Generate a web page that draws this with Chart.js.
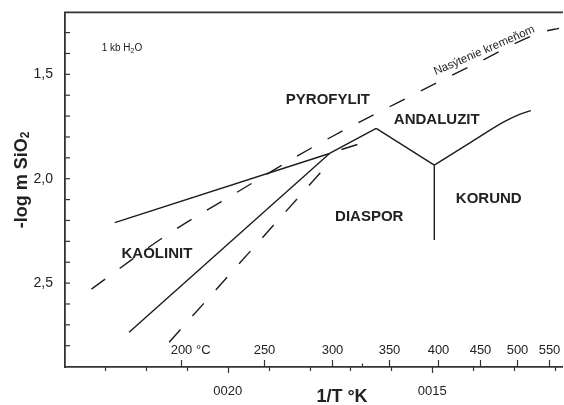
<!DOCTYPE html>
<html>
<head>
<meta charset="utf-8">
<script src="https://cdn.jsdelivr.net/npm/chart.js@4.4.0/dist/chart.umd.min.js"></script>
<style>
html,body{margin:0;padding:0;background:#fff;}
canvas{display:block;}
</style>
</head>
<body>
<canvas id="c" width="564" height="405"></canvas>
<script>
// x = 1000/T  (T in K),  y = -log m SiO2
// Phase boundaries (solid)
const kaolPyroX      = [2.276, 1.751];
const kaolPyroY      = [2.210, 1.879];
const kaolPyroMetaX  = [1.722, 1.683];          // metastable extension (one dash)
const kaolPyroMetaY  = [1.860, 1.836];
const kaolDiasX      = [2.241, 1.751];
const kaolDiasY      = [2.735, 1.879];
const pyroDiasX      = [1.751, 1.637];
const pyroDiasY      = [1.879, 1.759];
const andDiasX       = [1.637, 1.495];
const andDiasY       = [1.759, 1.935];
const diasKorX       = [1.495, 1.495];
const diasKorY       = [1.935, 2.293];
const andKorX        = [1.495, 1.410, 1.324, 1.288, 1.259];
const andKorY        = [1.935, 1.831, 1.727, 1.693, 1.674];
// Dashed lines
const quartzSatX     = [2.333, 2.159, 1.968, 1.783, 1.588, 1.393, 1.234, 1.190];
const quartzSatY     = [2.529, 2.283, 2.054, 1.839, 1.639, 1.448, 1.299, 1.280];
const kaolDiasQzX    = [2.143, 1.761];
const kaolDiasQzY    = [2.783, 1.944];

// Axes
const yTickValues    = [1.3,1.4,1.5,1.6,1.7,1.8,1.9,2.0,2.1,2.2,2.3,2.4,2.5,2.6,2.7,2.8];
const yLabelValues   = [1.5, 2.0, 2.5];
const yLabels        = ['1,5', '2,0', '2,5'];
const invTTickValues = [2.3,2.2,2.1,2.0,1.9,1.8,1.7,1.6,1.5,1.4,1.3,1.2];
const invTLabelValues= [2.0, 1.5];
const invTLabels     = ['0020', '0015'];
const tempTicksC     = [200, 250, 300, 350, 400, 450, 500, 550];
const tempMinorC     = [325];

// Field names
const fieldNames = ['PYROFYLIT','KAOLINIT','ANDALUZIT','DIASPOR','KORUND'];
const fieldX     = [1.755, 2.173, 1.489, 1.654, 1.362];
const fieldY     = [1.621, 2.360, 1.720, 2.182, 2.098];

const FONT = '"Liberation Sans", Arial, Helvetica, sans-serif';
const INK = '#222';
const LINE = '#1c1c1c';

const pts = (xs, ys) => xs.map((v, i) => ({x: v, y: ys[i]}));
const ds = (xs, ys, dashed, smooth) => ({
  data: pts(xs, ys), showLine: true, pointRadius: 0, borderColor: LINE,
  borderWidth: 1.4, borderDash: dashed ? [17, 18] : [],
  tension: smooth ? 0.4 : 0,
  cubicInterpolationMode: smooth ? 'monotone' : 'default', fill: false
});

const near = (arr, v) => arr.findIndex(a => Math.abs(a - v) < 1e-9);

const overlay = {
  id: 'overlay',
  afterDraw(chart) {
    const {ctx, chartArea: a, scales: {x, y}} = chart;
    ctx.save();
    ctx.strokeStyle = '#333';
    ctx.lineWidth = 1.8;
    ctx.beginPath(); ctx.moveTo(a.left - 0.9, a.top); ctx.lineTo(a.right, a.top); ctx.stroke();

    ctx.lineWidth = 1.2;
    // y ticks (inward)
    yTickValues.forEach(v => {
      const p = y.getPixelForValue(v);
      ctx.beginPath(); ctx.moveTo(a.left, p); ctx.lineTo(a.left + 5, p); ctx.stroke();
    });
    // 1/T ticks (outward)
    invTTickValues.forEach(v => {
      const p = Math.round(x.getPixelForValue(v)) + 0.5;
      const len = near(invTLabelValues, v) >= 0 ? 6 : 4;
      ctx.beginPath(); ctx.moveTo(p, a.bottom); ctx.lineTo(p, a.bottom + len); ctx.stroke();
    });
    // temperature ticks (inward)
    ctx.fillStyle = INK;
    ctx.font = '13px ' + FONT;
    ctx.textBaseline = 'middle';
    tempTicksC.forEach((t, i) => {
      const p = Math.round(x.getPixelForValue(1000 / (t + 273.15))) + 0.5;
      ctx.beginPath(); ctx.moveTo(p, a.bottom); ctx.lineTo(p, a.bottom - 7); ctx.stroke();
      const s = String(t);
      const w = ctx.measureText(s).width;
      ctx.textAlign = 'left';
      ctx.fillText(i === 0 ? s + ' °C' : s, p - w / 2, a.bottom - 17);
    });
    tempMinorC.forEach(t => {
      const p = Math.round(x.getPixelForValue(1000 / (t + 273.15))) + 0.5;
      ctx.beginPath(); ctx.moveTo(p, a.bottom); ctx.lineTo(p, a.bottom - 3.5); ctx.stroke();
    });

    // field names
    ctx.font = 'bold 15px ' + FONT;
    ctx.textAlign = 'center';
    fieldNames.forEach((n, i) => {
      ctx.fillText(n, x.getPixelForValue(fieldX[i]), y.getPixelForValue(fieldY[i]));
    });

    // 1 kb H2O
    let px = x.getPixelForValue(2.308), py = y.getPixelForValue(1.377);
    ctx.textAlign = 'left';
    ctx.font = '10px ' + FONT;
    ctx.fillText('1 kb H', px, py);
    px += ctx.measureText('1 kb H').width;
    ctx.font = '7px ' + FONT;
    ctx.fillText('2', px, py + 2.5);
    px += ctx.measureText('2').width;
    ctx.font = '10px ' + FONT;
    ctx.fillText('O', px, py);

    // quartz saturation label
    ctx.save();
    ctx.translate(x.getPixelForValue(1.373), y.getPixelForValue(1.386));
    ctx.rotate(-23.5 * Math.PI / 180);
    ctx.font = '11.5px ' + FONT;
    ctx.textAlign = 'center';
    ctx.fillText('Nasýtenie kremeňom', 0, 0);
    ctx.restore();

    // x title
    ctx.font = 'bold 18px ' + FONT;
    ctx.textAlign = 'center';
    ctx.fillText('1/T °K', (a.left + a.right) / 2 + 28, 397);

    // y title with subscript
    ctx.save();
    ctx.translate(22, 180);
    ctx.rotate(-Math.PI / 2);
    ctx.font = 'bold 18px ' + FONT;
    const main = '-log m SiO';
    const wm = ctx.measureText(main).width;
    ctx.font = 'bold 12px ' + FONT;
    const ws = ctx.measureText('2').width;
    let sx = -(wm + ws) / 2;
    ctx.textAlign = 'left';
    ctx.font = 'bold 18px ' + FONT;
    ctx.fillText(main, sx, 0);
    ctx.font = 'bold 12px ' + FONT;
    ctx.fillText('2', sx + wm, 4);
    ctx.restore();

    ctx.restore();
  }
};

new Chart(document.getElementById('c'), {
  type: 'scatter',
  data: {
    datasets: [
      ds(kaolPyroX, kaolPyroY),
      ds(kaolPyroMetaX, kaolPyroMetaY),
      ds(kaolDiasX, kaolDiasY),
      ds(pyroDiasX, pyroDiasY),
      ds(andDiasX, andDiasY),
      ds(diasKorX, diasKorY),
      ds(andKorX, andKorY, false, true),
      ds(quartzSatX, quartzSatY, true, true),
      ds(kaolDiasQzX, kaolDiasQzY, true)
    ]
  },
  options: {
    responsive: false,
    animation: false,
    devicePixelRatio: 1,
    layout: {padding: {top: 12, right: 0, left: 0, bottom: 0}},
    plugins: {legend: {display: false}, tooltip: {enabled: false}},
    scales: {
      x: {
        type: 'linear', reverse: true, min: 1.1805, max: 2.3976,
        afterBuildTicks: s => { s.ticks = invTTickValues.map(v => ({value: v})); },
        afterFit: s => { s.height = 38; },
        grid: {display: false},
        border: {display: true, color: '#333', width: 1.8},
        ticks: {
          autoSkip: false, maxRotation: 0, padding: 9, color: INK,
          font: {size: 13, family: FONT},
          callback: v => { const i = near(invTLabelValues, v); return i >= 0 ? invTLabels[i] : ''; }
        }
      },
      y: {
        type: 'linear', reverse: true, min: 1.2033, max: 2.9019,
        afterBuildTicks: s => { s.ticks = yTickValues.map(v => ({value: v})); },
        afterFit: s => { s.width = 65; },
        grid: {display: false},
        border: {display: true, color: '#333', width: 1.8},
        ticks: {
          autoSkip: false, padding: 4, color: INK,
          font: {size: 14, family: FONT},
          callback: v => { const i = near(yLabelValues, v); return i >= 0 ? yLabels[i] : ''; }
        }
      }
    }
  },
  plugins: [overlay]
});
</script>
</body>
</html>
